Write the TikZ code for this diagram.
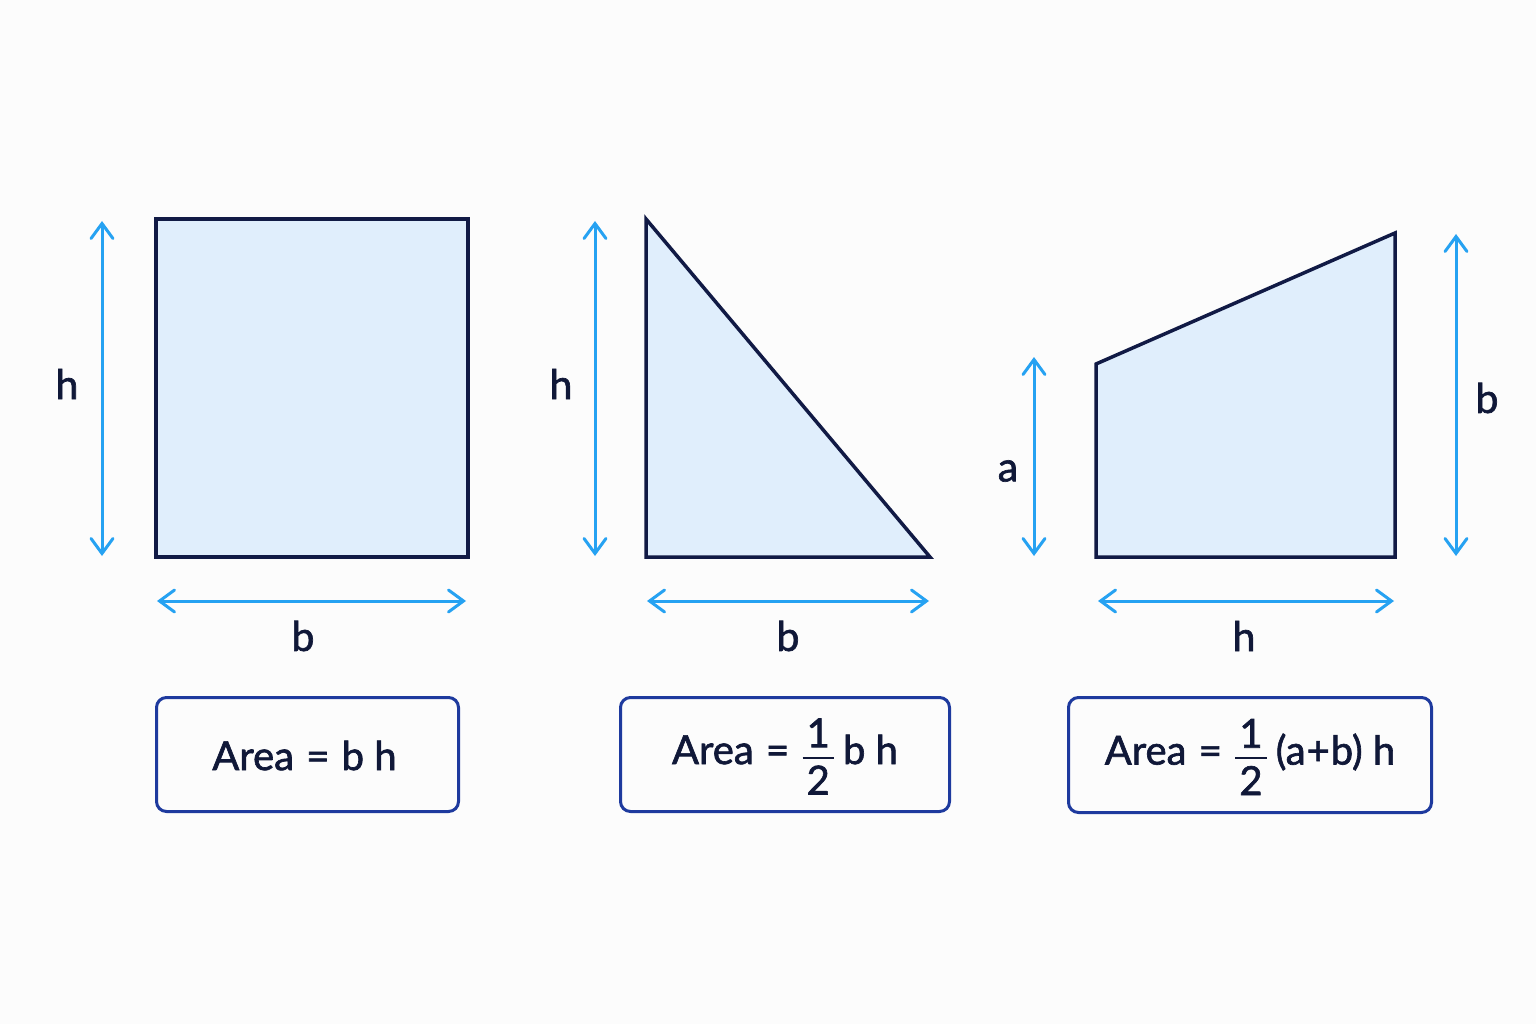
\documentclass[tikz,border=0pt]{standalone}
\usepackage{amsmath}
\usepackage{fontspec}
\setmainfont{Lato}[FakeBold=1.6]
\usetikzlibrary{arrows.meta}
\definecolor{navy}{HTML}{111A45}
\definecolor{fillblue}{HTML}{E0EEFC}
\definecolor{arrowblue}{HTML}{26A2F2}
\definecolor{boxblue}{HTML}{1E3A9E}
\definecolor{textc}{HTML}{101838}
\newcommand\hfr[2]{\ensuremath{\genfrac{}{}{2.2pt}{0}{\text{\kern4pt #1\kern4pt}}{\text{\kern4pt #2\kern4pt}}}}
\tikzset{
  shapefig/.style={draw=navy, fill=fillblue, line width=3.5pt, line join=miter},
  dimarrow/.style={draw=arrowblue, line width=3pt, {Straight Barb[length=15pt,width=22pt,line cap=round]}-{Straight Barb[length=15pt,width=22pt,line cap=round]}},
  dimlabel/.style={text=textc, font=\fontsize{41}{44}\selectfont, inner sep=0pt},
  formula/.style={draw=boxblue, line width=3pt, rounded corners=10pt, inner sep=0pt, anchor=north west},
  formtext/.style={text=textc, font=\fontsize{40}{44}\selectfont, inner sep=0pt}
}
\begin{document}
\begin{tikzpicture}[x=1pt,y=-1pt]
\fill[white!99!black] (0,0) rectangle (1536,1024);
\useasboundingbox (0,0) rectangle (1536,1024);
% rectangle
\coordinate (r1) at (156,219); \coordinate (r2) at (468,219);
\coordinate (r3) at (468,557); \coordinate (r4) at (156,557);
\draw[shapefig] (r1) -- (r2) -- (r3) -- (r4) -- cycle;
\coordinate (rh1) at (102,221); \coordinate (rh2) at (102,556);
\draw[dimarrow] (rh1) -- (rh2);
\coordinate (rb1) at (157,601); \coordinate (rb2) at (466,601);
\draw[dimarrow] (rb1) -- (rb2);
\node[dimlabel] (lrh) at (67,384) {h};
\node[dimlabel] (lrb) at (303,636) {b};
% triangle
\coordinate (t1) at (646,219); \coordinate (t2) at (646,557); \coordinate (t3) at (930,557);
\draw[shapefig] (t1) -- (t2) -- (t3) -- cycle;
\coordinate (th1) at (595,221); \coordinate (th2) at (595,556);
\draw[dimarrow] (th1) -- (th2);
\coordinate (tb1) at (647,601); \coordinate (tb2) at (929,601);
\draw[dimarrow] (tb1) -- (tb2);
\node[dimlabel] (lth) at (561,384) {h};
\node[dimlabel] (ltb) at (788,636) {b};
% trapezoid
\coordinate (p1) at (1096,557); \coordinate (p2) at (1096,364);
\coordinate (p3) at (1395,233); \coordinate (p4) at (1395,557);
\draw[shapefig] (p1) -- (p2) -- (p3) -- (p4) -- cycle;
\coordinate (pa1) at (1034,357); \coordinate (pa2) at (1034,556);
\draw[dimarrow] (pa1) -- (pa2);
\coordinate (pb1) at (1456,234); \coordinate (pb2) at (1456,556);
\draw[dimarrow] (pb1) -- (pb2);
\coordinate (ph1) at (1098,601); \coordinate (ph2) at (1394,601);
\draw[dimarrow] (ph1) -- (ph2);
\node[dimlabel] (lpa) at (1008,471) {a};
\node[dimlabel] (lpb) at (1487,398) {b};
\node[dimlabel] (lph) at (1244,636) {h};
% formula boxes
\node[formula, minimum width=302pt, minimum height=114pt] (f1) at (155,696) {};
\node[formtext] (f1t) at ([xshift=-3pt,yshift=-1pt]f1.center) {Area\kern2pt{} =\kern2pt{} b h};
\node[formula, minimum width=329pt, minimum height=114pt] (f2) at (619,696) {};
\node[formtext] (f2t) at ([yshift=-2pt]f2.center) {Area\kern2pt{} =\kern2pt{} \hfr{1}{2}\kern8pt b h};
\node[formula, minimum width=363pt, minimum height=115pt] (f3) at (1067,696) {};
\node[formtext] (f3t) at ([yshift=-2pt]f3.center) {Area\kern2pt{} =\kern2pt{} \hfr{1}{2}\kern8pt(a\kern1pt+\kern1pt b) h};
\end{tikzpicture}
\end{document}
